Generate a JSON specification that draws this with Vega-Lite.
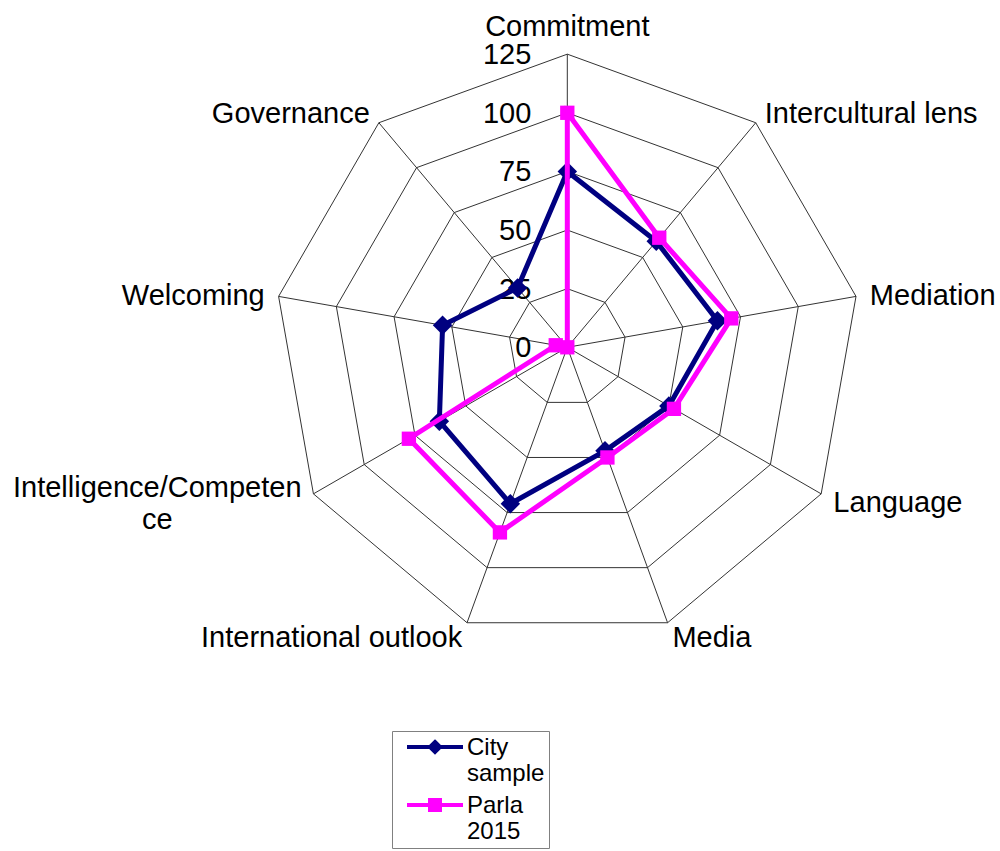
{
  "$schema": "https://vega.github.io/schema/vega-lite/v6.json",
  "width": 1000,
  "height": 851,
  "autosize": "none",
  "padding": 0,
  "background": "white",
  "config": {"view": {"stroke": null}, "font": "Liberation Sans"},
  "datasets": {
    "scores": [
      {"axis": "Commitment", "idx": 0, "series": "City sample", "value": 75},
      {"axis": "Intercultural lens", "idx": 1, "series": "City sample", "value": 59},
      {"axis": "Mediation", "idx": 2, "series": "City sample", "value": 65},
      {"axis": "Language", "idx": 3, "series": "City sample", "value": 50},
      {"axis": "Media", "idx": 4, "series": "City sample", "value": 47},
      {"axis": "International outlook", "idx": 5, "series": "City sample", "value": 71},
      {"axis": "Intelligence/Competence", "idx": 6, "series": "City sample", "value": 63},
      {"axis": "Welcoming", "idx": 7, "series": "City sample", "value": 54},
      {"axis": "Governance", "idx": 8, "series": "City sample", "value": 33},
      {"axis": "Commitment", "idx": 0, "series": "Parla 2015", "value": 100},
      {"axis": "Intercultural lens", "idx": 1, "series": "Parla 2015", "value": 61},
      {"axis": "Mediation", "idx": 2, "series": "Parla 2015", "value": 71},
      {"axis": "Language", "idx": 3, "series": "Parla 2015", "value": 52.5},
      {"axis": "Media", "idx": 4, "series": "Parla 2015", "value": 50},
      {"axis": "International outlook", "idx": 5, "series": "Parla 2015", "value": 84},
      {"axis": "Intelligence/Competence", "idx": 6, "series": "Parla 2015", "value": 78},
      {"axis": "Welcoming", "idx": 7, "series": "Parla 2015", "value": 5},
      {"axis": "Governance", "idx": 8, "series": "Parla 2015", "value": 0}
    ],
    "axes": [
      {"axis": "Commitment", "label": "Commitment", "idx": 0, "rings": [25, 50, 75, 100, 125]},
      {"axis": "Intercultural lens", "label": "Intercultural lens", "idx": 1, "rings": [25, 50, 75, 100, 125]},
      {"axis": "Mediation", "label": "Mediation", "idx": 2, "rings": [25, 50, 75, 100, 125]},
      {"axis": "Language", "label": "Language", "idx": 3, "rings": [25, 50, 75, 100, 125]},
      {"axis": "Media", "label": "Media", "idx": 4, "rings": [25, 50, 75, 100, 125]},
      {"axis": "International outlook", "label": "International outlook", "idx": 5, "rings": [25, 50, 75, 100, 125]},
      {"axis": "Intelligence/Competence", "label": ["Intelligence/Competen", "ce"], "idx": 6, "rings": [25, 50, 75, 100, 125]},
      {"axis": "Welcoming", "label": "Welcoming", "idx": 7, "rings": [25, 50, 75, 100, 125]},
      {"axis": "Governance", "label": "Governance", "idx": 8, "rings": [25, 50, 75, 100, 125]}
    ],
    "ticks": [{"v": 0}, {"v": 25}, {"v": 50}, {"v": 75}, {"v": 100}, {"v": 125}]
  },
  "layer": [
    {
      "data": {"name": "axes"},
      "transform": [
        {"flatten": ["rings"], "as": ["ring"]},
        {"calculate": "datum.ring*sin(datum.idx*2*PI/9)", "as": "x"},
        {"calculate": "datum.ring*cos(datum.idx*2*PI/9)", "as": "y"}
      ],
      "mark": {"type": "line", "interpolate": "linear-closed", "stroke": "#333333", "strokeWidth": 1},
      "encoding": {
        "x": {"field": "x", "type": "quantitative", "scale": {"domain": [-241.9, 184.5], "nice": false, "zero": false}, "axis": null},
        "y": {"field": "y", "type": "quantitative", "scale": {"domain": [-214.8, 148.1], "nice": false, "zero": false}, "axis": null},
        "detail": {"field": "ring", "type": "nominal"},
        "order": {"field": "idx", "type": "quantitative"}
      }
    },
    {
      "data": {"name": "axes"},
      "transform": [
        {"calculate": "125*sin(datum.idx*2*PI/9)", "as": "sx"},
        {"calculate": "125*cos(datum.idx*2*PI/9)", "as": "sy"}
      ],
      "mark": {"type": "rule", "stroke": "#333333", "strokeWidth": 1},
      "encoding": {
        "x": {"field": "sx", "type": "quantitative"},
        "y": {"field": "sy", "type": "quantitative"},
        "x2": {"datum": 0},
        "y2": {"datum": 0}
      }
    },
    {
      "data": {"name": "ticks"},
      "mark": {"type": "text", "align": "right", "baseline": "middle", "dx": -36, "dy": 1, "fontSize": 29, "font": "Liberation Sans", "color": "black"},
      "encoding": {
        "x": {"datum": 0, "type": "quantitative"},
        "y": {"field": "v", "type": "quantitative"},
        "text": {"field": "v", "type": "quantitative"}
      }
    },
    {
      "data": {"name": "scores"},
      "transform": [
        {"filter": "datum.series == 'City sample'"},
        {"calculate": "datum.value*sin(datum.idx*2*PI/9)", "as": "x"},
        {"calculate": "datum.value*cos(datum.idx*2*PI/9)", "as": "y"}
      ],
      "mark": {"type": "line", "interpolate": "linear-closed", "color": "#000080", "strokeWidth": 5},
      "encoding": {
        "x": {"field": "x", "type": "quantitative"},
        "y": {"field": "y", "type": "quantitative"},
        "order": {"field": "idx", "type": "quantitative"}
      }
    },
    {
      "data": {"name": "scores"},
      "transform": [
        {"filter": "datum.series == 'City sample'"},
        {"calculate": "datum.value*sin(datum.idx*2*PI/9)", "as": "x"},
        {"calculate": "datum.value*cos(datum.idx*2*PI/9)", "as": "y"}
      ],
      "mark": {"type": "point", "shape": "diamond", "filled": true, "size": 380, "color": "#000080", "opacity": 1},
      "encoding": {
        "x": {"field": "x", "type": "quantitative"},
        "y": {"field": "y", "type": "quantitative"}
      }
    },
    {
      "data": {"name": "scores"},
      "transform": [
        {"filter": "datum.series == 'Parla 2015'"},
        {"calculate": "datum.value*sin(datum.idx*2*PI/9)", "as": "x"},
        {"calculate": "datum.value*cos(datum.idx*2*PI/9)", "as": "y"}
      ],
      "mark": {"type": "line", "interpolate": "linear-closed", "color": "#FF00FF", "strokeWidth": 5},
      "encoding": {
        "x": {"field": "x", "type": "quantitative"},
        "y": {"field": "y", "type": "quantitative"},
        "order": {"field": "idx", "type": "quantitative"}
      }
    },
    {
      "data": {"name": "scores"},
      "transform": [
        {"filter": "datum.series == 'Parla 2015'"},
        {"calculate": "datum.value*sin(datum.idx*2*PI/9)", "as": "x"},
        {"calculate": "datum.value*cos(datum.idx*2*PI/9)", "as": "y"}
      ],
      "mark": {"type": "point", "shape": "square", "filled": true, "size": 205, "color": "#FF00FF", "opacity": 1},
      "encoding": {
        "x": {"field": "x", "type": "quantitative"},
        "y": {"field": "y", "type": "quantitative"}
      }
    },
    {
      "data": {"name": "axes"},
      "transform": [
        {"filter": "datum.idx >= 1 && datum.idx <= 4"},
        {"calculate": "131*sin(datum.idx*2*PI/9)", "as": "lx"},
        {"calculate": "131*cos(datum.idx*2*PI/9)", "as": "ly"}
      ],
      "mark": {"type": "text", "align": "left", "baseline": "middle", "dy": 2, "fontSize": 29, "font": "Liberation Sans", "color": "black"},
      "encoding": {
        "x": {"field": "lx", "type": "quantitative"},
        "y": {"field": "ly", "type": "quantitative"},
        "text": {"field": "label", "type": "nominal"}
      }
    },
    {
      "data": {"name": "axes"},
      "transform": [
        {"filter": "datum.idx == 5 || datum.idx == 7 || datum.idx == 8"},
        {"calculate": "131*sin(datum.idx*2*PI/9)", "as": "lx"},
        {"calculate": "131*cos(datum.idx*2*PI/9)", "as": "ly"}
      ],
      "mark": {"type": "text", "align": "right", "baseline": "middle", "dy": 2, "fontSize": 29, "font": "Liberation Sans", "color": "black"},
      "encoding": {
        "x": {"field": "lx", "type": "quantitative"},
        "y": {"field": "ly", "type": "quantitative"},
        "text": {"field": "label", "type": "nominal"}
      }
    },
    {
      "data": {"name": "axes"},
      "transform": [
        {"filter": "datum.idx == 0"},
        {"calculate": "131*sin(datum.idx*2*PI/9)", "as": "lx"},
        {"calculate": "131*cos(datum.idx*2*PI/9)", "as": "ly"}
      ],
      "mark": {"type": "text", "align": "center", "baseline": "alphabetic", "dy": -4, "fontSize": 29, "font": "Liberation Sans", "color": "black"},
      "encoding": {
        "x": {"field": "lx", "type": "quantitative"},
        "y": {"field": "ly", "type": "quantitative"},
        "text": {"field": "label", "type": "nominal"}
      }
    },
    {
      "data": {"name": "axes"},
      "transform": [
        {"filter": "datum.idx == 6"},
        {"calculate": "131*sin(datum.idx*2*PI/9)", "as": "lx"},
        {"calculate": "131*cos(datum.idx*2*PI/9)", "as": "ly"}
      ],
      "mark": {"type": "text", "align": "center", "baseline": "middle", "dx": -144, "dy": -13, "lineHeight": 32, "fontSize": 29, "font": "Liberation Sans", "color": "black"},
      "encoding": {
        "x": {"field": "lx", "type": "quantitative"},
        "y": {"field": "ly", "type": "quantitative"},
        "text": {"field": "label", "type": "nominal"}
      }
    },
    {
      "data": {"name": "scores"},
      "transform": [{"filter": "datum.value < -1000"}],
      "mark": {"type": "point", "filled": true, "opacity": 1, "size": 400},
      "encoding": {
        "x": {"field": "value", "type": "quantitative"},
        "y": {"field": "value", "type": "quantitative"},
        "shape": {
          "field": "series", "type": "nominal",
          "scale": {"domain": ["City sample", "Parla 2015"], "range": ["M-2.8,0L2.8,0M0,-0.5L0.5,0L0,0.5L-0.5,0Z", "M-2.8,0L2.8,0M-0.5,-0.5L0.5,-0.5L0.5,0.5L-0.5,0.5Z"]},
          "legend": {"title": null, "orient": "none", "legendX": 392, "legendY": 731, "labelFontSize": 24, "labelFont": "Liberation Sans", "labelColor": "black", "labelExpr": "datum.label == 'City sample' ? ['City','sample\u00a0\u00a0'] : ['Parla','2015']", "symbolSize": 400, "symbolStrokeWidth": 4, "symbolOpacity": 1, "strokeColor": "#808080", "fillColor": "white", "padding": 4, "rowPadding": 6, "symbolOffset": 27, "labelOffset": 20, "labelBaseline": "alphabetic", "labelLimit": 300, "encoding": {"labels": {"dy": {"value": 8}}}}
        },
        "fill": {
          "field": "series", "type": "nominal",
          "scale": {"domain": ["City sample", "Parla 2015"], "range": ["#000080", "#FF00FF"]},
          "legend": {"title": null, "orient": "none", "legendX": 392, "legendY": 731, "labelFontSize": 24, "labelFont": "Liberation Sans", "labelColor": "black", "labelExpr": "datum.label == 'City sample' ? ['City','sample\u00a0\u00a0'] : ['Parla','2015']", "symbolSize": 400, "symbolStrokeWidth": 4, "symbolOpacity": 1, "strokeColor": "#808080", "fillColor": "white", "padding": 4, "rowPadding": 6, "symbolOffset": 27, "labelOffset": 20, "labelBaseline": "alphabetic", "labelLimit": 300, "encoding": {"labels": {"dy": {"value": 8}}}}
        },
        "stroke": {
          "field": "series", "type": "nominal",
          "scale": {"domain": ["City sample", "Parla 2015"], "range": ["#000080", "#FF00FF"]},
          "legend": {"title": null, "orient": "none", "legendX": 392, "legendY": 731, "labelFontSize": 24, "labelFont": "Liberation Sans", "labelColor": "black", "labelExpr": "datum.label == 'City sample' ? ['City','sample\u00a0\u00a0'] : ['Parla','2015']", "symbolSize": 400, "symbolStrokeWidth": 4, "symbolOpacity": 1, "strokeColor": "#808080", "fillColor": "white", "padding": 4, "rowPadding": 6, "symbolOffset": 27, "labelOffset": 20, "labelBaseline": "alphabetic", "labelLimit": 300, "encoding": {"labels": {"dy": {"value": 8}}}}
        }
      }
    }
  ]
}
